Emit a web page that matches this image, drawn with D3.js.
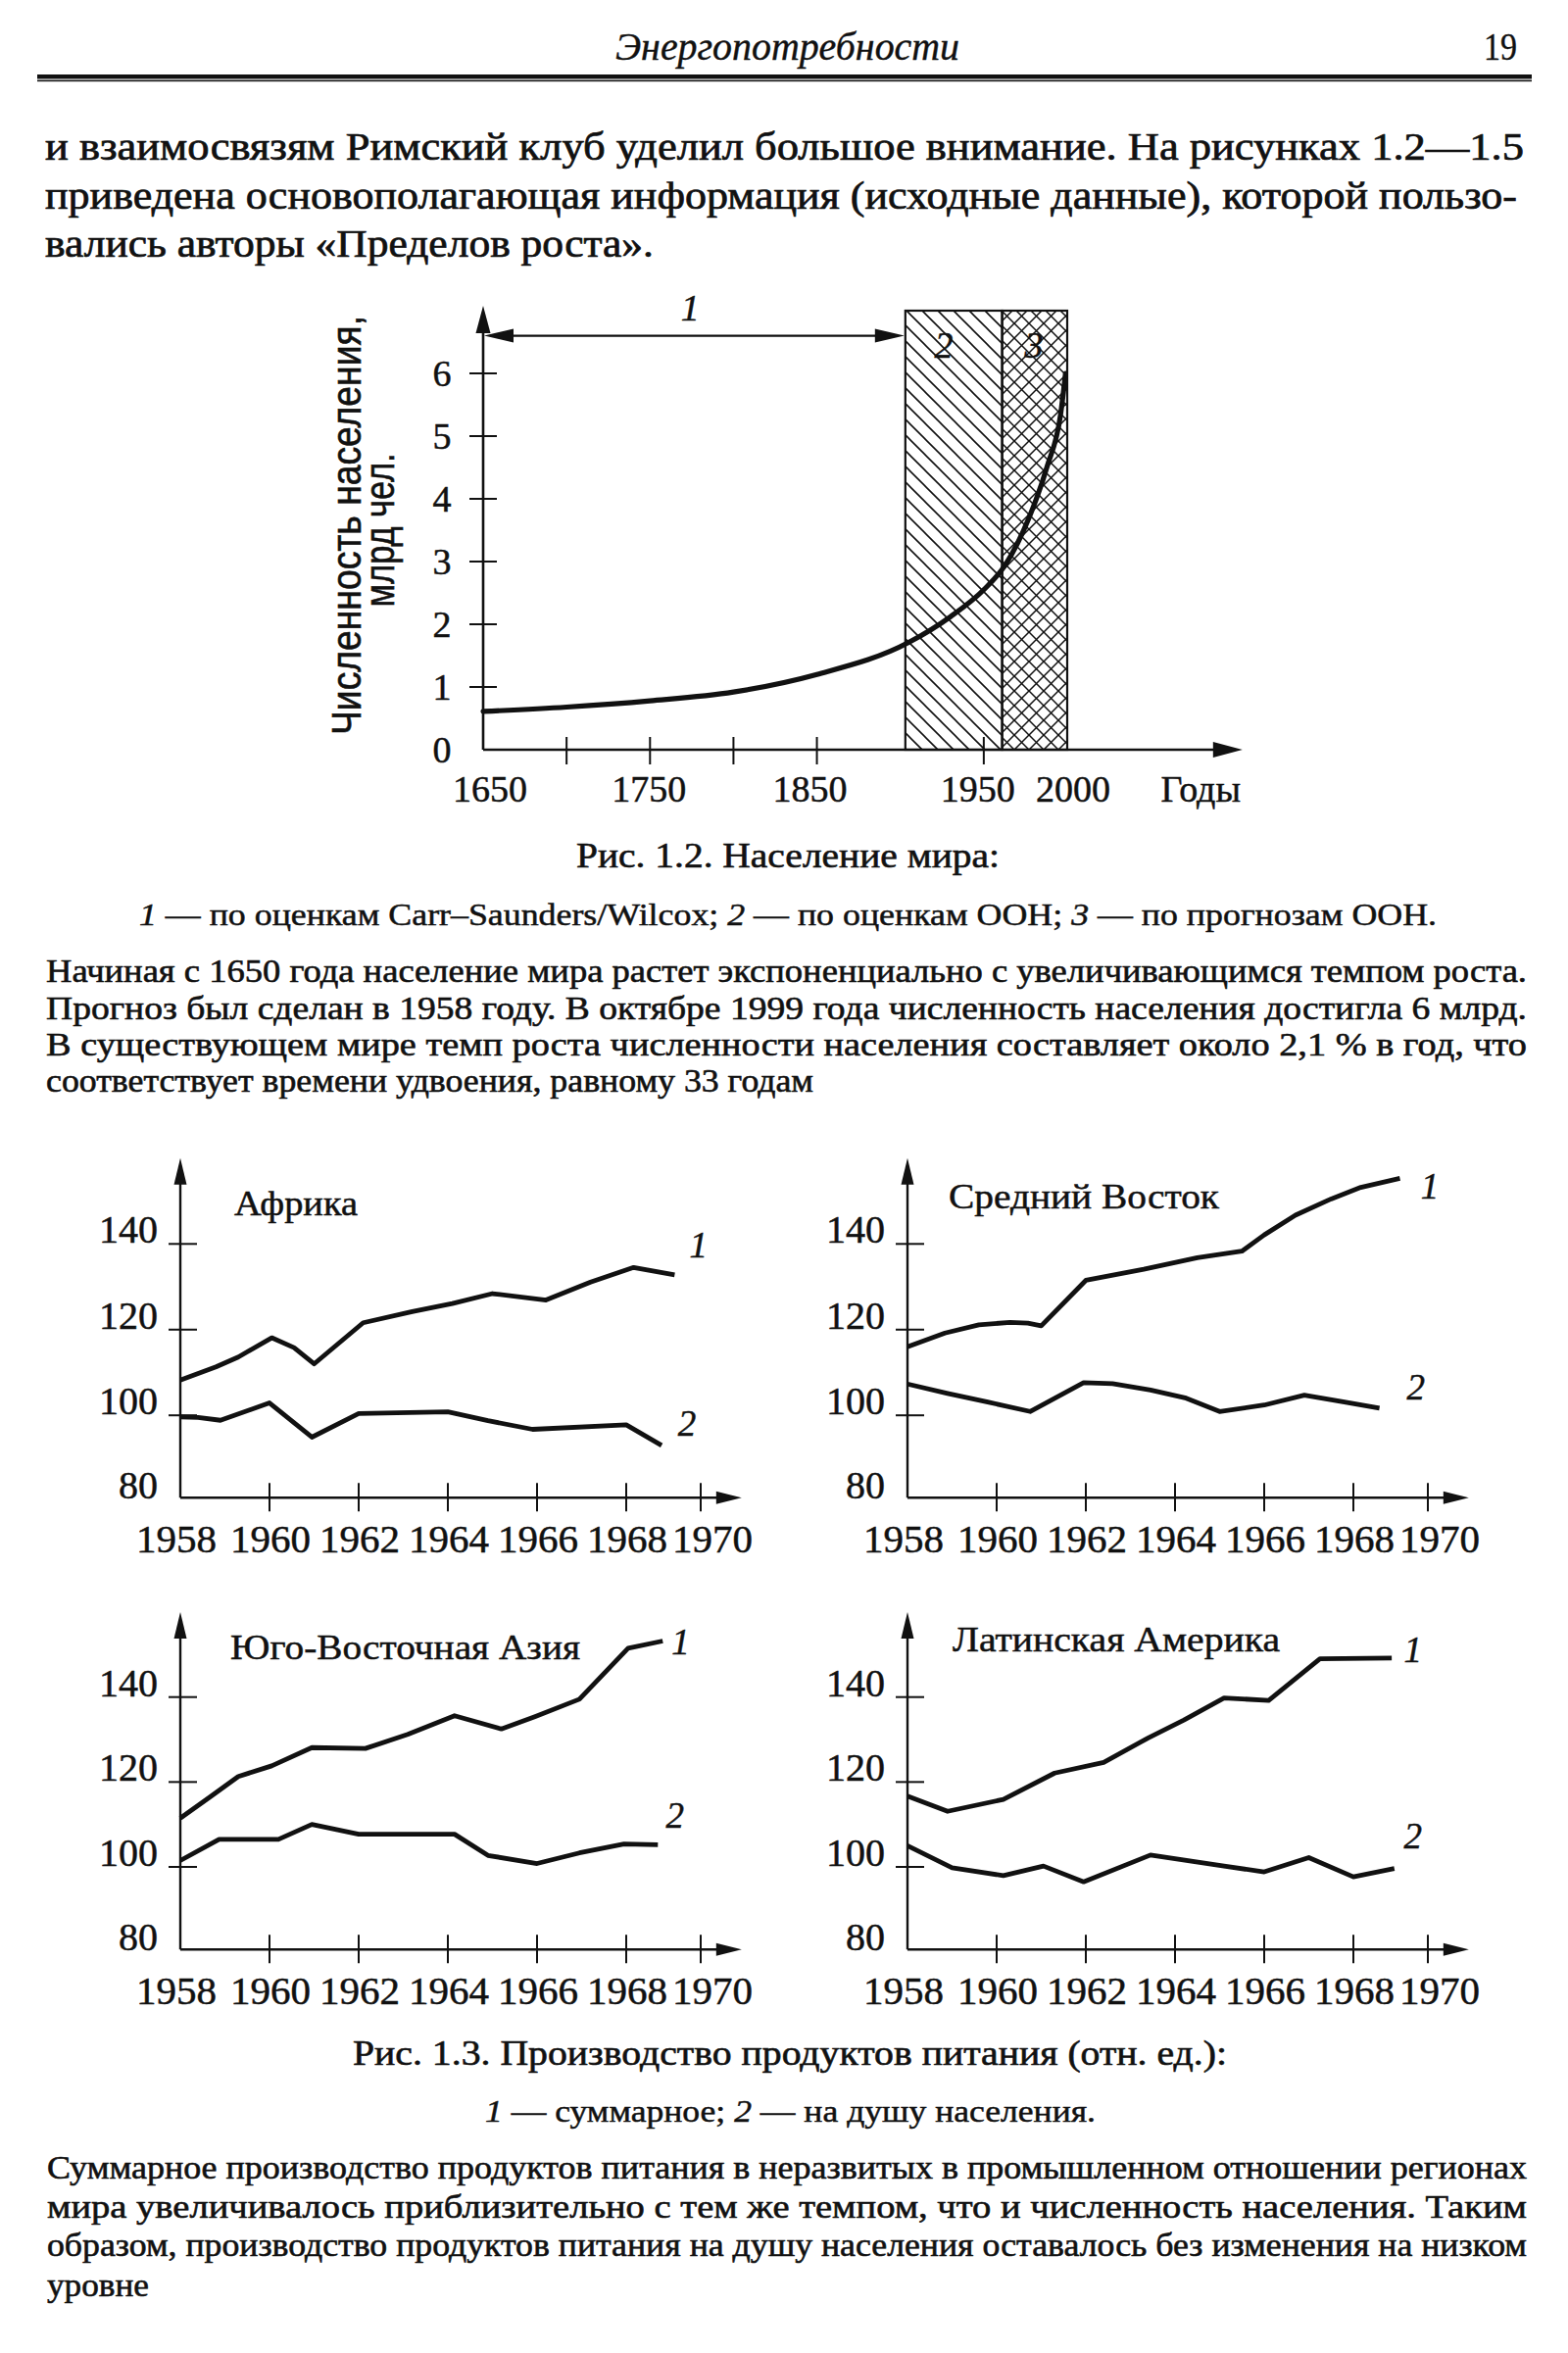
<!DOCTYPE html>
<html>
<head>
<meta charset="utf-8">
<script src="https://cdn.jsdelivr.net/npm/d3@7"></script>
<style>
  html, body { margin: 0; padding: 0; background: #fff; }
  svg { display: block; }
  text { white-space: pre; }
</style>
</head>
<body>
<svg id="page" width="1600" height="2401"></svg>
<script>
// ================= DATA =================
// Page texts
const headerTitle = "Энергопотребности";
const pageNumber = "19";
const introLines = [
  "и взаимосвязям Римский клуб уделил большое внимание. На рисунках 1.2—1.5",
  "приведена основополагающая информация (исходные данные), которой пользо-",
  "вались авторы «Пределов роста»."
];
const fig12Caption = "Рис. 1.2. Население мира:";
const fig12Legend = ["1", " — по оценкам Carr–Saunders/Wilcox; ", "2", " — по оценкам ООН; ", "3", " — по прогнозам ООН."];
const fig12Text = [
  "Начиная с 1650 года население мира растет экспоненциально с увеличивающимся темпом роста.",
  "Прогноз был сделан в 1958 году. В октябре 1999 года численность населения достигла 6 млрд.",
  "В существующем мире темп роста численности населения составляет около 2,1 % в год, что",
  "соответствует времени удвоения, равному 33 годам"
];
const fig13Caption = "Рис. 1.3. Производство продуктов питания (отн. ед.):";
const fig13Legend = ["1", " — суммарное; ", "2", " — на душу населения."];
const fig13Text = [
  "Суммарное производство продуктов питания в неразвитых в промышленном отношении регионах",
  "мира увеличивалось приблизительно с тем же темпом, что и численность населения. Таким",
  "образом, производство продуктов питания на душу населения оставалось без изменения на низком",
  "уровне"
];

// Fig 1.2 — world population (billions)
const popYears  = [1650, 1700, 1750, 1800, 1850, 1905, 1930, 1950, 1963, 1977, 1988, 1996, 1999];
const popValues = [0.61, 0.68, 0.78, 0.92, 1.20, 1.71, 2.12, 2.55, 2.95, 3.69, 4.52, 5.34, 6.00];
const popPeriods = [1903, 1961, 2000];          // 2: UN estimates, 3: UN forecasts
const popPeriodLabels = ["1", "2", "3"];
const popYTicks = [1, 2, 3, 4, 5, 6];
const popYTickLabels = ["0", "1", "2", "3", "4", "5", "6"];
const popXTicks = [1700, 1750, 1800, 1850, 1950];
const popXLabelYears = [1650, 1750, 1850, 1950, 2000];
const popXUnit = "Годы";
const popYTitle = ["Численность населения,", "млрд чел."];

// Fig 1.3 — food production (relative units)
const regionNames = ["Африка", "Средний Восток", "Юго-Восточная Азия", "Латинская Америка"];
const seriesLabels = ["1", "2"];
const foodYTicks = [100, 120, 140];
const foodYLabels = [80, 100, 120, 140];
const foodXTicks = [1960, 1962, 1964, 1966, 1968, 1970];
const foodXLabels = [1958, 1960, 1962, 1964, 1966, 1968, 1970];

const africaTotalYears = [1958, 1958.8, 1959.3, 1960.05, 1960.55, 1961.0, 1962.1, 1963.2, 1964.1, 1965.0, 1966.2, 1967.2, 1968.2, 1969.3];
const africaTotalValues = [108.2, 111.3, 113.6, 118.1, 115.8, 112.0, 121.6, 124.2, 126.1, 128.4, 126.9, 131.1, 134.5, 132.8];
const africaPerCapYears = [1958, 1958.4, 1958.9, 1960.0, 1960.95, 1962.0, 1964.0, 1964.9, 1965.9, 1968.0, 1968.95];
const africaPerCapValues = [99.6, 99.5, 98.8, 102.9, 94.7, 100.4, 100.8, 98.7, 96.6, 97.7, 92.7];

const meTotalYears = [1958, 1958.84, 1959.6, 1960.3, 1960.7, 1961.0, 1962.0, 1963.3, 1964.5, 1965.5, 1966.0, 1966.7, 1967.5, 1968.2, 1969.25];
const meTotalValues = [116.0, 119.2, 121.1, 121.7, 121.5, 120.9, 131.5, 134.1, 136.8, 138.3, 142.1, 146.7, 150.5, 153.2, 155.3];
const mePerCapYears = [1958, 1958.9, 1959.8, 1960.75, 1961.95, 1962.6, 1963.45, 1964.25, 1965.0, 1966.0, 1966.9, 1967.8, 1968.7];
const mePerCapValues = [107.3, 105.1, 103.1, 100.9, 107.6, 107.4, 105.9, 104.0, 100.9, 102.4, 104.7, 103.1, 101.7];

const seaTotalYears = [1958, 1958.67, 1959.3, 1960.05, 1960.95, 1962.15, 1963.1, 1964.15, 1965.2, 1965.95, 1966.95, 1968.05, 1968.98];
const seaTotalValues = [111.5, 116.5, 121.3, 123.8, 128.1, 127.9, 131.2, 135.6, 132.5, 135.4, 139.5, 151.5, 153.2];
const seaPerCapYears = [1958, 1958.87, 1960.2, 1960.95, 1962.0, 1964.15, 1964.9, 1966.0, 1966.95, 1967.95, 1968.85];
const seaPerCapValues = [101.5, 106.5, 106.5, 110.0, 107.7, 107.7, 102.7, 100.8, 103.3, 105.4, 105.2];

const laTotalYears = [1958, 1958.9, 1960.15, 1961.3, 1962.4, 1963.4, 1964.2, 1965.1, 1966.1, 1967.25, 1969.03];
const laTotalValues = [116.7, 113.1, 115.9, 122.1, 124.6, 130.4, 134.6, 139.8, 139.2, 149.0, 149.2];
const laPerCapYears = [1958, 1959.0, 1960.15, 1961.05, 1961.95, 1963.45, 1965.1, 1966.0, 1967.0, 1968.0, 1969.1];
const laPerCapValues = [105.0, 99.8, 97.9, 100.2, 96.4, 102.8, 100.2, 98.8, 102.2, 97.6, 99.6];

// ================= DRAWING =================
const svg = d3.select("#page");
const INK = "#111";
const SERIF = "'Liberation Serif','Times New Roman',Times,serif";
const SANS = "'Liberation Sans',Arial,Helvetica,sans-serif";

svg.append("rect").attr("width", 1600).attr("height", 2401).attr("fill", "#fff");

function addText(parent, parts, o) {
  const t = parent.append("text")
    .attr("x", o.x).attr("y", o.y)
    .attr("font-family", o.family || SERIF)
    .attr("font-size", o.size)
    .attr("fill", INK)
    .attr("stroke", INK)
    .attr("stroke-width", o.weight === undefined ? 0.5 : o.weight)
    .attr("text-anchor", o.anchor || "start");
  if (o.italic) t.attr("font-style", "italic");
  if (o.transform) t.attr("transform", o.transform);
  if (typeof parts === "string") {
    t.text(parts);
  } else {
    parts.forEach(p => {
      const ts = t.append("tspan").text(p.s);
      if (p.it) ts.attr("font-style", "italic");
    });
  }
  if (o.width) t.attr("textLength", o.width).attr("lengthAdjust", "spacingAndGlyphs");
  return t;
}

function arrowHead(g, tipX, tipY, dir, len, half) {
  let pts;
  if (dir === "up") pts = [[tipX, tipY], [tipX - half, tipY + len], [tipX + half, tipY + len]];
  else if (dir === "right") pts = [[tipX, tipY], [tipX - len, tipY - half], [tipX - len, tipY + half]];
  else pts = [[tipX, tipY], [tipX + len, tipY - half], [tipX + len, tipY + half]];
  g.append("path").attr("d", "M" + pts.map(p => p.join(",")).join("L") + "Z").attr("fill", INK);
}

// ---- Header ----
addText(svg, headerTitle, { x: 628, y: 61, size: 39, italic: true, width: 351, weight: 0.4 });
addText(svg, pageNumber, { x: 1548, y: 61, size: 39, anchor: "end", width: 34, weight: 0.4 });
svg.append("rect").attr("x", 38).attr("y", 76).attr("width", 1525).attr("height", 4.5).attr("fill", INK);
svg.append("rect").attr("x", 38).attr("y", 81.6).attr("width", 1525).attr("height", 1.6).attr("fill", INK);

// ---- Intro text ----
const introLayout = [{ y: 163, w: 1509 }, { y: 212.5, w: 1502 }, { y: 262, w: 621 }];
introLines.forEach((s, i) => addText(svg, s, { x: 46, y: introLayout[i].y, size: 39, width: introLayout[i].w, weight: 0.7 }));

// ---- Fig 1.2 ----
const gPop = svg.append("g");
const popX = d3.scaleLinear().domain([1650, 2000]).range([493, 1089]);
const popY = d3.scaleLinear().domain([0, 6]).range([765, 381]);

const defs = svg.append("defs");
const pUN = defs.append("pattern").attr("id", "hatchUN").attr("patternUnits", "userSpaceOnUse")
  .attr("width", 16).attr("height", 16);
pUN.append("path").attr("d", "M-4,-4L20,20M-4,12L4,20M12,-4L20,4")
  .attr("stroke", INK).attr("stroke-width", 1.6).attr("fill", "none");
const pFc = defs.append("pattern").attr("id", "hatchFc").attr("patternUnits", "userSpaceOnUse")
  .attr("width", 15).attr("height", 15);
pFc.append("path").attr("d", "M-4,-4L19,19M-4,11L4,19M11,-4L19,4M-4,19L19,-4M-4,4L4,-4M11,19L19,11")
  .attr("stroke", INK).attr("stroke-width", 1.5).attr("fill", "none");

const periodFills = ["url(#hatchUN)", "url(#hatchFc)"];
for (let i = 0; i < popPeriods.length - 1; i++) {
  gPop.append("rect")
    .attr("x", popX(popPeriods[i])).attr("y", popY(7))
    .attr("width", popX(popPeriods[i + 1]) - popX(popPeriods[i]))
    .attr("height", popY(0) - popY(7))
    .attr("fill", periodFills[i]).attr("stroke", INK).attr("stroke-width", 2.2);
}

// axes
const ax0 = popX(1650), ay0 = popY(0);
gPop.append("line").attr("x1", ax0).attr("x2", ax0).attr("y1", ay0).attr("y2", popY(6.95))
  .attr("stroke", INK).attr("stroke-width", 2.6);
arrowHead(gPop, ax0, popY(7.08), "up", 28, 7.5);
gPop.append("line").attr("x1", ax0).attr("x2", popX(2090)).attr("y1", ay0).attr("y2", ay0)
  .attr("stroke", INK).attr("stroke-width", 2.6);
arrowHead(gPop, popX(2105), ay0, "right", 30, 8);

gPop.selectAll(".yt").data(popYTicks).join("line")
  .attr("x1", ax0 - 14).attr("x2", ax0 + 14)
  .attr("y1", d => popY(d)).attr("y2", d => popY(d))
  .attr("stroke", INK).attr("stroke-width", 2);
gPop.selectAll(".xt").data(popXTicks).join("line")
  .attr("x1", d => popX(d)).attr("x2", d => popX(d))
  .attr("y1", ay0 - 13).attr("y2", ay0 + 15)
  .attr("stroke", INK).attr("stroke-width", 2);

popYTickLabels.forEach((s, i) => addText(gPop, s, { x: 451, y: popY(i) + 13, size: 38, anchor: "middle" }));
const popXLabelShift = [7, -1, -7, -6, 6];
popXLabelYears.forEach((yr, i) => addText(gPop, String(yr), { x: popX(yr) + popXLabelShift[i], y: 818, size: 38, anchor: "middle" }));
addText(gPop, popXUnit, { x: popX(2080), y: 818, size: 38, anchor: "middle" });

// y-axis title (rotated)
addText(gPop, popYTitle[0], { x: 0, y: 0, size: 43, family: SANS, anchor: "middle", width: 428, transform: "translate(368,536) rotate(-90)", weight: 0.6 });
addText(gPop, popYTitle[1], { x: 0, y: 0, size: 43, family: SANS, anchor: "middle", width: 157, transform: "translate(402,541) rotate(-90)", weight: 0.6 });

// population curve
const popLine = d3.line().x(d => popX(d[0])).y(d => popY(d[1])).curve(d3.curveMonotoneX);
gPop.append("path").datum(popYears.map((y, i) => [y, popValues[i]]))
  .attr("d", popLine).attr("fill", "none").attr("stroke", INK)
  .attr("stroke-width", 5.2).attr("stroke-linecap", "round");

// double arrow for period 1
const arY = popY(6.6);
gPop.append("line").attr("x1", ax0 + 20).attr("x2", popX(popPeriods[0]) - 20).attr("y1", arY).attr("y2", arY)
  .attr("stroke", INK).attr("stroke-width", 2.2);
arrowHead(gPop, ax0 + 1, arY, "left", 30, 7);
arrowHead(gPop, popX(popPeriods[0]) - 1, arY, "right", 30, 7);

addText(gPop, popPeriodLabels[0], { x: popX(1774), y: popY(6.85), size: 38, italic: true, anchor: "middle" });
addText(gPop, popPeriodLabels[1], { x: popX(1926), y: popY(6.25), size: 38, italic: true, anchor: "middle" });
addText(gPop, popPeriodLabels[2], { x: popX(1980), y: popY(6.25), size: 38, italic: true, anchor: "middle" });

// captions Fig 1.2
addText(svg, fig12Caption, { x: 588, y: 885, size: 35, width: 432, weight: 0.6 });
addText(svg, fig12Legend.map((s, i) => ({ s, it: i % 2 === 0 })), { x: 142, y: 944, size: 32, width: 1324 });
const p12Layout = [{ y: 1002, w: 1511 }, { y: 1039.5, w: 1511 }, { y: 1077, w: 1511 }, { y: 1114, w: 783 }];
fig12Text.forEach((s, i) => addText(svg, s, { x: 47, y: p12Layout[i].y, size: 34, width: p12Layout[i].w, weight: 0.6 }));

// ---- Fig 1.3 panels ----
const panels = [
  { title: regionNames[0], tYears: africaTotalYears, tVals: africaTotalValues, pYears: africaPerCapYears, pVals: africaPerCapValues,
    x0: 184, row: 0, titleDx: 55, titleY: 1240, titleW: 126, lab1: [1969.94, 136.9], lab2: [1969.63, 95.0] },
  { title: regionNames[1], tYears: meTotalYears, tVals: meTotalValues, pYears: mePerCapYears, pVals: mePerCapValues,
    x0: 926, row: 0, titleDx: 42, titleY: 1233, titleW: 276, lab1: [1970.05, 150.6], lab2: [1969.68, 103.7] },
  { title: regionNames[2], tYears: seaTotalYears, tVals: seaTotalValues, pYears: seaPerCapYears, pVals: seaPerCapValues,
    x0: 184, row: 1, titleDx: 51, titleY: 1693, titleW: 357, lab1: [1969.46, 150.1], lab2: [1969.31, 109.2] },
  { title: regionNames[3], tYears: laTotalYears, tVals: laTotalValues, pYears: laPerCapYears, pVals: laPerCapValues,
    x0: 926, row: 1, titleDx: 46, titleY: 1685, titleW: 334, lab1: [1969.6, 148.2], lab2: [1969.6, 104.4] }
];
const rowRanges = [[1528.3, 1444.2, 1269.3], [1989.3, 1905.0, 1731.7]];

panels.forEach(p => {
  const g = svg.append("g");
  const xs = d3.scaleLinear().domain([1958, 1968, 1970]).range([p.x0, p.x0 + 455, p.x0 + 531]);
  const ys = d3.scaleLinear().domain([80, 100, 140]).range(rowRanges[p.row]);
  const X0 = xs(1958), Y0 = ys(80);

  // axes
  g.append("line").attr("x1", X0).attr("x2", X0).attr("y1", Y0).attr("y2", ys(157))
    .attr("stroke", INK).attr("stroke-width", 2.4);
  arrowHead(g, X0, ys(160), "up", 27, 6.5);
  g.append("line").attr("x1", X0).attr("x2", xs(1970.6)).attr("y1", Y0).attr("y2", Y0)
    .attr("stroke", INK).attr("stroke-width", 2.4);
  arrowHead(g, xs(1971.1), Y0, "right", 26, 6.5);

  g.selectAll(".yt").data(foodYTicks).join("line")
    .attr("x1", X0 - 12).attr("x2", X0 + 17)
    .attr("y1", d => ys(d)).attr("y2", d => ys(d))
    .attr("stroke", INK).attr("stroke-width", 2);
  g.selectAll(".xt").data(foodXTicks).join("line")
    .attr("x1", d => xs(d)).attr("x2", d => xs(d))
    .attr("y1", Y0 - 15).attr("y2", Y0 + 14)
    .attr("stroke", INK).attr("stroke-width", 2);

  foodYLabels.forEach(v => addText(g, String(v), { x: X0 - 23, y: ys(v) - (v === 80 ? -1 : 1), size: 40, anchor: "end" }));
  foodXLabels.forEach(yr => {
    const dx = yr === 1958 ? -4 : (yr === 1970 ? 12 : 1);
    addText(g, String(yr), { x: xs(yr) + dx, y: Y0 + 56, size: 41, anchor: "middle" });
  });

  addText(g, p.title, { x: X0 + p.titleDx, y: p.titleY, size: 36, width: p.titleW });

  const line = d3.line().x(d => xs(d[0])).y(d => ys(d[1]));
  [[p.tYears, p.tVals], [p.pYears, p.pVals]].forEach(([yrs, vals]) => {
    g.append("path").datum(yrs.map((y, i) => [y, vals[i]]))
      .attr("d", line).attr("fill", "none").attr("stroke", INK)
      .attr("stroke-width", 4.8).attr("stroke-linejoin", "round").attr("stroke-linecap", "butt");
  });

  addText(g, seriesLabels[0], { x: xs(p.lab1[0]), y: ys(p.lab1[1]), size: 37, italic: true, anchor: "middle" });
  addText(g, seriesLabels[1], { x: xs(p.lab2[0]), y: ys(p.lab2[1]), size: 37, italic: true, anchor: "middle" });
});

// captions Fig 1.3
addText(svg, fig13Caption, { x: 360, y: 2107, size: 35, width: 892, weight: 0.6 });
addText(svg, fig13Legend.map((s, i) => ({ s, it: i % 2 === 0 })), { x: 495, y: 2165, size: 32, width: 623 });
const p13Layout = [{ y: 2223, w: 1510 }, { y: 2263, w: 1510 }, { y: 2302, w: 1510 }, { y: 2343, w: 104 }];
fig13Text.forEach((s, i) => addText(svg, s, { x: 48, y: p13Layout[i].y, size: 34, width: p13Layout[i].w, weight: 0.6 }));
</script>
</body>
</html>
